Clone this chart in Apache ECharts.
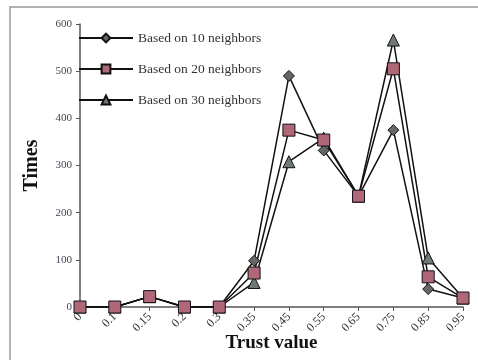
<!DOCTYPE html>
<html>
<head>
<meta charset="utf-8">
<script src="https://cdn.jsdelivr.net/npm/echarts@6/dist/echarts.min.js"></script>
<style>
html,body{margin:0;padding:0;background:#fff;}
#main{width:478px;height:360px;}
</style>
</head>
<body>
<div id="main"></div>
<script>
var categories=["0","0.1","0.15","0.2","0.3","0.35","0.45","0.55","0.65","0.75","0.85","0.95"];
var n10=[0,0,22,0,0,98,490,332,235,375,38,19];
var n20=[0,0,22,0,0,72,375,354,235,505,64,19];
var n30=[0,0,22,0,0,52,308,358,235,566,104,19];
var yTicks=[0,100,200,300,400,500,600];

var serif='"Liberation Serif","DejaVu Serif",serif';
var chart=echarts.init(document.getElementById('main'));
function mk(name,data,symbol,size,fill){
    return {
        name:name,
        type:'line',
        data:data,
        symbol:symbol,
        symbolSize:size,
        showAllSymbol:true,
        lineStyle:{color:'#111',width:1.5},
        itemStyle:{color:fill,borderColor:'#111',borderWidth:1},
        emphasis:{disabled:true},
        animation:false
    };
}
var option={
    backgroundColor:'#fff',
    animation:false,
    graphic:[{
        type:'rect',
        shape:{x:10,y:7,width:475,height:360},
        style:{fill:'none',stroke:'#999',lineWidth:1.5},
        silent:true
    }],
    grid:{left:80,top:24,right:15,bottom:53,outerBoundsMode:'none',containLabel:false},
    legend:{
        left:73,top:26,orient:'vertical',
        itemWidth:54,itemHeight:11,itemGap:17,
        textStyle:{fontFamily:serif,fontSize:13.5,color:'#333'},
        data:['Based on 10 neighbors','Based on 20 neighbors','Based on 30 neighbors']
    },
    xAxis:{
        type:'category',
        data:categories,
        boundaryGap:false,
        name:'Trust value',
        nameLocation:'middle',
        nameGap:27,
        nameMoveOverlap:false,
        nameTextStyle:{fontFamily:serif,fontSize:19,fontWeight:'bold',color:'#111'},
        axisLine:{lineStyle:{color:'#555',width:1.5}},
        axisTick:{alignWithLabel:true,length:4,lineStyle:{color:'#555'}},
        axisLabel:{rotate:45,fontFamily:serif,fontSize:12,color:'#333',margin:8,interval:0}
    },
    yAxis:{
        type:'value',
        min:0,max:600,interval:100,
        name:'Times',
        nameLocation:'middle',
        nameGap:38,
        nameMoveOverlap:false,
        nameTextStyle:{fontFamily:serif,fontSize:20,fontWeight:'bold',color:'#111'},
        axisLine:{show:true,lineStyle:{color:'#555',width:1.5}},
        axisTick:{show:true,length:4,lineStyle:{color:'#555'}},
        splitLine:{show:false},
        axisLabel:{fontFamily:serif,fontSize:11,color:'#445',margin:8,
            formatter:function(v){return yTicks.indexOf(v)>=0?String(v):'';}}
    },
    series:[
        mk('Based on 10 neighbors',n10,'diamond',11,'#666'),
        mk('Based on 30 neighbors',n30,'triangle',12,'#6f7a74'),
        mk('Based on 20 neighbors',n20,'rect',12,'#b06878')
    ]
};
chart.setOption(option);
</script>
</body>
</html>
